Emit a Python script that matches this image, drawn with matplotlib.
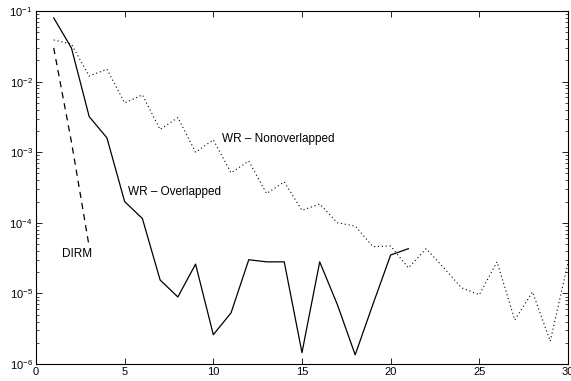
import numpy as np
import matplotlib
matplotlib.use("Agg")
import matplotlib.pyplot as plt
from matplotlib.ticker import LogLocator, NullFormatter

plt.rcParams['font.family'] = ['Liberation Sans', 'DejaVu Sans']
plt.rcParams['mathtext.fontset'] = 'custom'
plt.rcParams['mathtext.rm'] = 'Liberation Sans'
plt.rcParams['mathtext.it'] = 'Liberation Sans:italic'

# error per iteration
iter_overlap = np.arange(1, 22)
err_overlap = [8.0e-2, 3.0e-2, 3.2e-3, 1.6e-3, 2.0e-4, 1.15e-4, 1.55e-5, 8.9e-6,
               2.6e-5, 2.6e-6, 5.3e-6, 3.0e-5, 2.8e-5, 2.8e-5, 1.45e-6, 2.8e-5,
               6.9e-6, 1.35e-6, 7.0e-6, 3.5e-5, 4.3e-5]

iter_nonoverlap = np.arange(1, 31)
err_nonoverlap = [3.9e-2, 3.4e-2, 1.2e-2, 1.5e-2, 5.0e-3, 6.5e-3, 2.1e-3, 3.1e-3,
                  1.0e-3, 1.5e-3, 5.1e-4, 7.5e-4, 2.6e-4, 3.8e-4, 1.5e-4, 1.85e-4,
                  1.0e-4, 9.0e-5, 4.6e-5, 4.7e-5, 2.3e-5, 4.3e-5, 2.3e-5, 1.2e-5,
                  9.6e-6, 2.8e-5, 4.2e-6, 1.05e-5, 2.1e-6, 2.7e-5]

iter_dirm = [1, 2, 3]
err_dirm = [3.0e-2, 1.4e-3, 4.6e-5]

fig = plt.figure(figsize=(5.71, 3.81), dpi=100)
ax = fig.add_axes([0.063, 0.0446, 0.9317, 0.9264])

ax.semilogy(iter_overlap, err_overlap, color='black', linestyle='-', linewidth=0.9)
ax.semilogy(iter_nonoverlap, err_nonoverlap, color='black', linestyle=(0, (1, 2.5)), linewidth=0.8)
ax.semilogy(iter_dirm, err_dirm, color='black', linestyle=(0, (5, 4)), linewidth=0.9)

ax.text(10.5, 1.55e-3, 'WR \u2013 Nonoverlapped', fontsize=8.5, va='center', ha='left')
ax.text(5.2, 2.75e-4, 'WR \u2013 Overlapped', fontsize=8.5, va='center', ha='left')
ax.text(1.45, 3.6e-5, 'DIRM', fontsize=8.5, va='center', ha='left')

ax.set_xlim(0, 30)
ax.set_ylim(1e-6, 1e-1)
ax.set_xticks([0, 5, 10, 15, 20, 25, 30])
ax.yaxis.set_major_locator(LogLocator(base=10, numticks=10))
ax.yaxis.set_minor_locator(LogLocator(base=10, subs=np.arange(2, 10), numticks=10))
ax.yaxis.set_minor_formatter(NullFormatter())
ax.tick_params(which='both', direction='in', top=True, right=True, labelsize=8)
ax.tick_params(which='major', length=4, width=0.6, pad=2.5)
ax.tick_params(which='minor', length=2, width=0.5)
for s in ax.spines.values():
    s.set_linewidth(0.8)

fig.savefig('out.png', dpi=100)
